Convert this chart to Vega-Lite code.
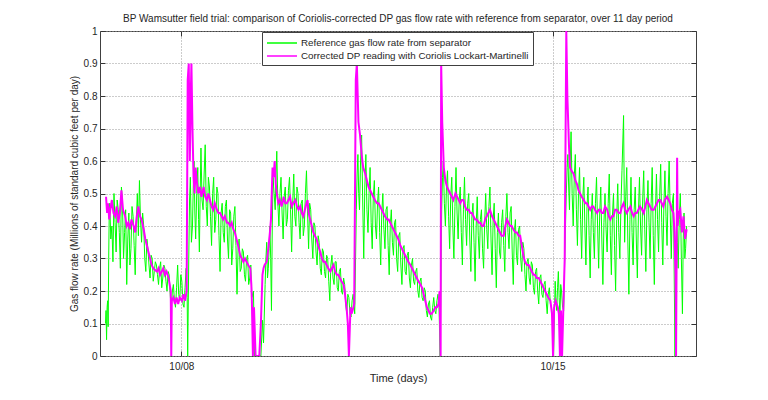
{
  "$schema": "https://vega.github.io/schema/vega-lite/v6.json",
  "description": "BP Wamsutter field trial: Coriolis-corrected DP gas flow rate vs separator reference, 11 days.",
  "autosize": "none",
  "width": 596,
  "height": 325,
  "padding": {"left": 100, "top": 31, "right": 72, "bottom": 44},
  "title": {
    "text": "BP Wamsutter field trial: comparison of Coriolis-corrected DP gas flow rate with reference from separator, over 11 day period",
    "fontSize": 10,
    "fontWeight": "normal",
    "color": "#262626",
    "frame": "group",
    "anchor": "middle",
    "offset": 2
  },
  "datasets": {
    "reference": [
      {"d":6.57,"v":0.10},{"d":6.58,"v":0.14},{"d":6.59,"v":0.05},{"d":6.60,"v":0.15},{"d":6.61,"v":0.17},{"d":6.62,"v":0.09},{"d":6.63,"v":0.30},{"d":6.64,"v":0.44},{"d":6.65,"v":0.47},{"d":6.67,"v":0.36},
      {"d":6.69,"v":0.40},{"d":6.71,"v":0.29},{"d":6.73,"v":0.50},{"d":6.75,"v":0.41},{"d":6.77,"v":0.32},{"d":6.79,"v":0.48},{"d":6.81,"v":0.45},{"d":6.83,"v":0.38},{"d":6.85,"v":0.27},{"d":6.87,"v":0.52},
      {"d":6.89,"v":0.47},{"d":6.91,"v":0.30},{"d":6.93,"v":0.38},{"d":6.95,"v":0.45},{"d":6.97,"v":0.22},{"d":6.99,"v":0.36},{"d":7.01,"v":0.44},{"d":7.03,"v":0.28},{"d":7.05,"v":0.33},{"d":7.07,"v":0.46},
      {"d":7.09,"v":0.43},{"d":7.11,"v":0.34},{"d":7.13,"v":0.25},{"d":7.15,"v":0.41},{"d":7.17,"v":0.50},{"d":7.19,"v":0.37},{"d":7.21,"v":0.54},{"d":7.23,"v":0.42},{"d":7.25,"v":0.35},{"d":7.27,"v":0.44},
      {"d":7.29,"v":0.40},{"d":7.31,"v":0.30},{"d":7.33,"v":0.26},{"d":7.35,"v":0.36},{"d":7.37,"v":0.33},{"d":7.39,"v":0.28},{"d":7.41,"v":0.24},{"d":7.43,"v":0.31},{"d":7.45,"v":0.30},{"d":7.47,"v":0.23},
      {"d":7.49,"v":0.26},{"d":7.51,"v":0.29},{"d":7.53,"v":0.28},{"d":7.55,"v":0.25},{"d":7.57,"v":0.22},{"d":7.59,"v":0.27},{"d":7.61,"v":0.29},{"d":7.63,"v":0.21},{"d":7.65,"v":0.24},{"d":7.67,"v":0.28},
      {"d":7.69,"v":0.27},{"d":7.71,"v":0.23},{"d":7.73,"v":0.20},{"d":7.75,"v":0.26},{"d":7.77,"v":0.25},{"d":7.79,"v":0.19},{"d":7.81,"v":0.14},{"d":7.83,"v":0.20},{"d":7.85,"v":0.22},{"d":7.87,"v":0.17},
      {"d":7.89,"v":0.15},{"d":7.91,"v":0.21},{"d":7.93,"v":0.28},{"d":7.95,"v":0.19},{"d":7.97,"v":0.17},{"d":7.99,"v":0.25},{"d":8.01,"v":0.23},{"d":8.03,"v":0.16},{"d":8.05,"v":0.15},{"d":8.07,"v":0.21},
      {"d":8.09,"v":0.27},{"d":8.11,"v":0.18},{"d":8.12,"v":0.0},{"d":8.14,"v":0.30},{"d":8.155,"v":0.48},{"d":8.17,"v":0.55},{"d":8.19,"v":0.35},{"d":8.21,"v":0.40},{"d":8.225,"v":0.52},{"d":8.24,"v":0.60},
      {"d":8.255,"v":0.44},{"d":8.27,"v":0.36},{"d":8.29,"v":0.50},{"d":8.31,"v":0.58},{"d":8.325,"v":0.42},{"d":8.34,"v":0.32},{"d":8.355,"v":0.50},{"d":8.37,"v":0.64},{"d":8.39,"v":0.48},{"d":8.41,"v":0.45},
      {"d":8.43,"v":0.56},{"d":8.45,"v":0.65},{"d":8.47,"v":0.46},{"d":8.49,"v":0.40},{"d":8.51,"v":0.55},{"d":8.53,"v":0.52},{"d":8.55,"v":0.43},{"d":8.57,"v":0.34},{"d":8.59,"v":0.50},{"d":8.61,"v":0.55},
      {"d":8.63,"v":0.38},{"d":8.65,"v":0.42},{"d":8.67,"v":0.52},{"d":8.69,"v":0.50},{"d":8.71,"v":0.37},{"d":8.73,"v":0.26},{"d":8.75,"v":0.44},{"d":8.77,"v":0.47},{"d":8.79,"v":0.38},{"d":8.81,"v":0.35},
      {"d":8.83,"v":0.46},{"d":8.85,"v":0.48},{"d":8.87,"v":0.36},{"d":8.89,"v":0.30},{"d":8.91,"v":0.45},{"d":8.93,"v":0.44},{"d":8.95,"v":0.28},{"d":8.97,"v":0.33},{"d":8.99,"v":0.43},{"d":9.01,"v":0.46},
      {"d":9.03,"v":0.34},{"d":9.05,"v":0.19},{"d":9.07,"v":0.33},{"d":9.09,"v":0.36},{"d":9.11,"v":0.26},{"d":9.13,"v":0.27},{"d":9.15,"v":0.33},{"d":9.17,"v":0.32},{"d":9.19,"v":0.25},{"d":9.21,"v":0.23},
      {"d":9.23,"v":0.30},{"d":9.25,"v":0.31},{"d":9.27,"v":0.22},{"d":9.29,"v":0.24},{"d":9.31,"v":0.28},{"d":9.33,"v":0.18},{"d":9.36,"v":0.20},{"d":9.38,"v":0.0},{"d":9.45,"v":0.0},{"d":9.50,"v":0.0},
      {"d":9.53,"v":0.11},{"d":9.55,"v":0.04},{"d":9.58,"v":0.22},{"d":9.595,"v":0.30},{"d":9.61,"v":0.35},{"d":9.625,"v":0.24},{"d":9.64,"v":0.27},{"d":9.655,"v":0.33},{"d":9.67,"v":0.40},{"d":9.685,"v":0.30},
      {"d":9.70,"v":0.14},{"d":9.715,"v":0.40},{"d":9.73,"v":0.55},{"d":9.75,"v":0.50},{"d":9.77,"v":0.45},{"d":9.785,"v":0.56},{"d":9.80,"v":0.63},{"d":9.82,"v":0.47},{"d":9.84,"v":0.40},{"d":9.86,"v":0.50},
      {"d":9.88,"v":0.55},{"d":9.90,"v":0.44},{"d":9.92,"v":0.36},{"d":9.94,"v":0.49},{"d":9.96,"v":0.52},{"d":9.98,"v":0.40},{"d":10.00,"v":0.42},{"d":10.02,"v":0.51},{"d":10.04,"v":0.55},{"d":10.06,"v":0.45},
      {"d":10.08,"v":0.32},{"d":10.10,"v":0.47},{"d":10.12,"v":0.56},{"d":10.14,"v":0.43},{"d":10.16,"v":0.40},{"d":10.18,"v":0.52},{"d":10.20,"v":0.50},{"d":10.22,"v":0.41},{"d":10.24,"v":0.36},{"d":10.26,"v":0.47},
      {"d":10.28,"v":0.48},{"d":10.30,"v":0.37},{"d":10.32,"v":0.40},{"d":10.34,"v":0.50},{"d":10.36,"v":0.57},{"d":10.38,"v":0.44},{"d":10.40,"v":0.33},{"d":10.42,"v":0.47},{"d":10.44,"v":0.45},{"d":10.46,"v":0.36},
      {"d":10.48,"v":0.30},{"d":10.50,"v":0.41},{"d":10.52,"v":0.40},{"d":10.54,"v":0.32},{"d":10.56,"v":0.28},{"d":10.58,"v":0.37},{"d":10.60,"v":0.35},{"d":10.62,"v":0.27},{"d":10.64,"v":0.25},{"d":10.66,"v":0.33},
      {"d":10.68,"v":0.32},{"d":10.70,"v":0.26},{"d":10.72,"v":0.24},{"d":10.74,"v":0.31},{"d":10.76,"v":0.30},{"d":10.78,"v":0.23},{"d":10.80,"v":0.17},{"d":10.82,"v":0.28},{"d":10.84,"v":0.31},{"d":10.86,"v":0.24},
      {"d":10.88,"v":0.22},{"d":10.90,"v":0.29},{"d":10.92,"v":0.29},{"d":10.94,"v":0.21},{"d":10.96,"v":0.20},{"d":10.98,"v":0.26},{"d":11.00,"v":0.27},{"d":11.02,"v":0.20},{"d":11.04,"v":0.19},{"d":11.06,"v":0.24},
      {"d":11.08,"v":0.22},{"d":11.10,"v":0.16},{"d":11.12,"v":0.13},{"d":11.14,"v":0.19},{"d":11.16,"v":0.18},{"d":11.18,"v":0.13},{"d":11.20,"v":0.12},{"d":11.22,"v":0.17},{"d":11.24,"v":0.19},{"d":11.27,"v":0.13},
      {"d":11.30,"v":0.45},{"d":11.315,"v":0.56},{"d":11.33,"v":0.62},{"d":11.345,"v":0.50},{"d":11.36,"v":0.45},{"d":11.38,"v":0.60},{"d":11.40,"v":0.68},{"d":11.42,"v":0.48},{"d":11.44,"v":0.30},{"d":11.46,"v":0.52},
      {"d":11.48,"v":0.62},{"d":11.50,"v":0.45},{"d":11.52,"v":0.38},{"d":11.54,"v":0.50},{"d":11.56,"v":0.58},{"d":11.58,"v":0.41},{"d":11.60,"v":0.33},{"d":11.62,"v":0.49},{"d":11.64,"v":0.54},{"d":11.66,"v":0.40},
      {"d":11.68,"v":0.36},{"d":11.70,"v":0.47},{"d":11.72,"v":0.52},{"d":11.74,"v":0.38},{"d":11.76,"v":0.28},{"d":11.78,"v":0.44},{"d":11.80,"v":0.50},{"d":11.82,"v":0.39},{"d":11.84,"v":0.33},{"d":11.86,"v":0.45},
      {"d":11.88,"v":0.46},{"d":11.90,"v":0.34},{"d":11.92,"v":0.25},{"d":11.94,"v":0.40},{"d":11.96,"v":0.45},{"d":11.98,"v":0.35},{"d":12.00,"v":0.31},{"d":12.02,"v":0.41},{"d":12.04,"v":0.42},{"d":12.06,"v":0.30},
      {"d":12.08,"v":0.26},{"d":12.10,"v":0.37},{"d":12.12,"v":0.38},{"d":12.14,"v":0.28},{"d":12.16,"v":0.22},{"d":12.18,"v":0.33},{"d":12.20,"v":0.34},{"d":12.22,"v":0.26},{"d":12.24,"v":0.25},{"d":12.26,"v":0.31},
      {"d":12.28,"v":0.32},{"d":12.30,"v":0.24},{"d":12.32,"v":0.21},{"d":12.34,"v":0.28},{"d":12.36,"v":0.30},{"d":12.38,"v":0.23},{"d":12.40,"v":0.22},{"d":12.42,"v":0.26},{"d":12.44,"v":0.27},{"d":12.46,"v":0.20},
      {"d":12.48,"v":0.18},{"d":12.50,"v":0.23},{"d":12.52,"v":0.24},{"d":12.54,"v":0.18},{"d":12.56,"v":0.17},{"d":12.58,"v":0.21},{"d":12.60,"v":0.20},{"d":12.62,"v":0.14},{"d":12.64,"v":0.12},{"d":12.66,"v":0.16},
      {"d":12.68,"v":0.17},{"d":12.70,"v":0.12},{"d":12.72,"v":0.11},{"d":12.74,"v":0.15},{"d":12.76,"v":0.18},{"d":12.78,"v":0.14},{"d":12.80,"v":0.13},{"d":12.82,"v":0.17},{"d":12.84,"v":0.19},{"d":12.86,"v":0.15},
      {"d":12.88,"v":0.0},{"d":12.91,"v":0.45},{"d":12.925,"v":0.55},{"d":12.94,"v":0.60},{"d":12.96,"v":0.47},{"d":12.98,"v":0.40},{"d":13.00,"v":0.52},{"d":13.02,"v":0.57},{"d":13.04,"v":0.43},{"d":13.06,"v":0.33},
      {"d":13.08,"v":0.49},{"d":13.10,"v":0.55},{"d":13.12,"v":0.40},{"d":13.14,"v":0.30},{"d":13.16,"v":0.46},{"d":13.18,"v":0.58},{"d":13.20,"v":0.44},{"d":13.22,"v":0.36},{"d":13.24,"v":0.48},{"d":13.26,"v":0.52},
      {"d":13.28,"v":0.38},{"d":13.30,"v":0.28},{"d":13.32,"v":0.45},{"d":13.34,"v":0.55},{"d":13.36,"v":0.42},{"d":13.38,"v":0.34},{"d":13.40,"v":0.47},{"d":13.42,"v":0.50},{"d":13.44,"v":0.36},{"d":13.46,"v":0.26},
      {"d":13.48,"v":0.43},{"d":13.50,"v":0.47},{"d":13.52,"v":0.35},{"d":13.54,"v":0.23},{"d":13.56,"v":0.40},{"d":13.58,"v":0.49},{"d":13.60,"v":0.37},{"d":13.62,"v":0.30},{"d":13.64,"v":0.42},{"d":13.66,"v":0.45},
      {"d":13.68,"v":0.33},{"d":13.70,"v":0.27},{"d":13.72,"v":0.41},{"d":13.74,"v":0.50},{"d":13.76,"v":0.39},{"d":13.78,"v":0.33},{"d":13.80,"v":0.46},{"d":13.82,"v":0.52},{"d":13.84,"v":0.36},{"d":13.86,"v":0.25},
      {"d":13.88,"v":0.42},{"d":13.90,"v":0.47},{"d":13.92,"v":0.33},{"d":13.94,"v":0.21},{"d":13.96,"v":0.38},{"d":13.98,"v":0.44},{"d":14.00,"v":0.32},{"d":14.02,"v":0.30},{"d":14.04,"v":0.41},{"d":14.06,"v":0.45},
      {"d":14.08,"v":0.34},{"d":14.10,"v":0.26},{"d":14.12,"v":0.43},{"d":14.14,"v":0.50},{"d":14.16,"v":0.38},{"d":14.18,"v":0.33},{"d":14.20,"v":0.44},{"d":14.22,"v":0.46},{"d":14.24,"v":0.32},{"d":14.26,"v":0.22},
      {"d":14.28,"v":0.38},{"d":14.30,"v":0.42},{"d":14.32,"v":0.31},{"d":14.34,"v":0.28},{"d":14.36,"v":0.39},{"d":14.38,"v":0.40},{"d":14.40,"v":0.30},{"d":14.42,"v":0.26},{"d":14.44,"v":0.35},{"d":14.46,"v":0.33},
      {"d":14.48,"v":0.25},{"d":14.50,"v":0.20},{"d":14.52,"v":0.29},{"d":14.54,"v":0.30},{"d":14.56,"v":0.24},{"d":14.58,"v":0.22},{"d":14.60,"v":0.29},{"d":14.62,"v":0.28},{"d":14.64,"v":0.21},{"d":14.66,"v":0.19},
      {"d":14.68,"v":0.26},{"d":14.70,"v":0.27},{"d":14.72,"v":0.20},{"d":14.74,"v":0.16},{"d":14.76,"v":0.24},{"d":14.78,"v":0.25},{"d":14.80,"v":0.19},{"d":14.82,"v":0.18},{"d":14.84,"v":0.22},{"d":14.86,"v":0.23},
      {"d":14.88,"v":0.17},{"d":14.90,"v":0.13},{"d":14.92,"v":0.19},{"d":14.94,"v":0.21},{"d":14.96,"v":0.16},{"d":14.98,"v":0.15},{"d":15.00,"v":0.12},{"d":15.02,"v":0.0},{"d":15.05,"v":0.23},{"d":15.065,"v":0.17},
      {"d":15.08,"v":0.14},{"d":15.095,"v":0.21},{"d":15.11,"v":0.26},{"d":15.125,"v":0.18},{"d":15.14,"v":0.12},{"d":15.155,"v":0.22},{"d":15.17,"v":0.20},{"d":15.19,"v":0.15},{"d":15.21,"v":0.14},{"d":15.23,"v":0.30},
      {"d":15.26,"v":0.50},{"d":15.275,"v":0.58},{"d":15.29,"v":0.62},{"d":15.305,"v":0.52},{"d":15.32,"v":0.45},{"d":15.335,"v":0.60},{"d":15.35,"v":0.69},{"d":15.37,"v":0.50},{"d":15.39,"v":0.40},{"d":15.41,"v":0.55},
      {"d":15.43,"v":0.62},{"d":15.45,"v":0.45},{"d":15.47,"v":0.34},{"d":15.49,"v":0.50},{"d":15.51,"v":0.58},{"d":15.53,"v":0.42},{"d":15.55,"v":0.30},{"d":15.57,"v":0.48},{"d":15.59,"v":0.55},{"d":15.61,"v":0.40},
      {"d":15.63,"v":0.28},{"d":15.65,"v":0.46},{"d":15.67,"v":0.52},{"d":15.69,"v":0.37},{"d":15.71,"v":0.24},{"d":15.73,"v":0.42},{"d":15.75,"v":0.50},{"d":15.77,"v":0.38},{"d":15.79,"v":0.30},{"d":15.81,"v":0.47},
      {"d":15.83,"v":0.55},{"d":15.85,"v":0.40},{"d":15.87,"v":0.27},{"d":15.89,"v":0.44},{"d":15.91,"v":0.52},{"d":15.93,"v":0.36},{"d":15.95,"v":0.22},{"d":15.97,"v":0.41},{"d":15.99,"v":0.50},{"d":16.01,"v":0.39},
      {"d":16.03,"v":0.32},{"d":16.05,"v":0.47},{"d":16.07,"v":0.56},{"d":16.09,"v":0.37},{"d":16.11,"v":0.25},{"d":16.13,"v":0.43},{"d":16.15,"v":0.50},{"d":16.17,"v":0.34},{"d":16.19,"v":0.20},{"d":16.21,"v":0.42},
      {"d":16.23,"v":0.53},{"d":16.25,"v":0.38},{"d":16.27,"v":0.30},{"d":16.29,"v":0.46},{"d":16.31,"v":0.57},{"d":16.34,"v":0.74},{"d":16.36,"v":0.35},{"d":16.38,"v":0.49},{"d":16.40,"v":0.58},{"d":16.42,"v":0.36},
      {"d":16.44,"v":0.19},{"d":16.46,"v":0.42},{"d":16.48,"v":0.55},{"d":16.50,"v":0.38},{"d":16.52,"v":0.28},{"d":16.54,"v":0.45},{"d":16.56,"v":0.52},{"d":16.58,"v":0.36},{"d":16.60,"v":0.24},{"d":16.62,"v":0.44},
      {"d":16.64,"v":0.55},{"d":16.66,"v":0.40},{"d":16.68,"v":0.31},{"d":16.70,"v":0.48},{"d":16.72,"v":0.57},{"d":16.74,"v":0.39},{"d":16.76,"v":0.26},{"d":16.78,"v":0.45},{"d":16.80,"v":0.54},{"d":16.82,"v":0.41},
      {"d":16.84,"v":0.30},{"d":16.86,"v":0.47},{"d":16.88,"v":0.58},{"d":16.90,"v":0.37},{"d":16.92,"v":0.22},{"d":16.94,"v":0.44},{"d":16.96,"v":0.56},{"d":16.98,"v":0.42},{"d":17.00,"v":0.32},{"d":17.02,"v":0.49},
      {"d":17.04,"v":0.59},{"d":17.06,"v":0.41},{"d":17.08,"v":0.28},{"d":17.10,"v":0.46},{"d":17.12,"v":0.57},{"d":17.14,"v":0.43},{"d":17.16,"v":0.34},{"d":17.18,"v":0.50},{"d":17.20,"v":0.60},{"d":17.22,"v":0.44},
      {"d":17.24,"v":0.30},{"d":17.26,"v":0.47},{"d":17.28,"v":0.50},{"d":17.31,"v":0.0},{"d":17.34,"v":0.45},{"d":17.355,"v":0.35},{"d":17.37,"v":0.27},{"d":17.39,"v":0.42},{"d":17.41,"v":0.50},{"d":17.43,"v":0.30},
      {"d":17.45,"v":0.13},{"d":17.465,"v":0.36},{"d":17.48,"v":0.44},{"d":17.495,"v":0.30},{"d":17.51,"v":0.33},{"d":17.53,"v":0.40}
    ],
    "corrected": [
      {"d":6.58,"v":0.49},{"d":6.60,"v":0.44},{"d":6.62,"v":0.47},{"d":6.64,"v":0.42},{"d":6.66,"v":0.45},{"d":6.69,"v":0.48},{"d":6.72,"v":0.44},{"d":6.75,"v":0.43},{"d":6.78,"v":0.46},{"d":6.81,"v":0.41},
      {"d":6.84,"v":0.44},{"d":6.87,"v":0.51},{"d":6.90,"v":0.45},{"d":6.94,"v":0.43},{"d":6.97,"v":0.40},{"d":7.00,"v":0.41},{"d":7.03,"v":0.39},{"d":7.06,"v":0.42},{"d":7.10,"v":0.40},{"d":7.13,"v":0.38},
      {"d":7.16,"v":0.43},{"d":7.19,"v":0.46},{"d":7.22,"v":0.43},{"d":7.25,"v":0.42},{"d":7.29,"v":0.39},{"d":7.32,"v":0.36},{"d":7.35,"v":0.34},{"d":7.38,"v":0.32},{"d":7.41,"v":0.30},{"d":7.44,"v":0.28},
      {"d":7.47,"v":0.27},{"d":7.50,"v":0.265},{"d":7.54,"v":0.26},{"d":7.57,"v":0.27},{"d":7.60,"v":0.25},{"d":7.63,"v":0.26},{"d":7.66,"v":0.27},{"d":7.69,"v":0.25},{"d":7.72,"v":0.26},{"d":7.76,"v":0.24},
      {"d":7.78,"v":0.22},{"d":7.80,"v":0.20},{"d":7.81,"v":0.0},{"d":7.82,"v":0.17},{"d":7.85,"v":0.18},{"d":7.88,"v":0.16},{"d":7.91,"v":0.18},{"d":7.94,"v":0.16},{"d":7.97,"v":0.18},{"d":8.01,"v":0.17},
      {"d":8.04,"v":0.19},{"d":8.07,"v":0.17},{"d":8.10,"v":0.20},{"d":8.12,"v":0.85},{"d":8.14,"v":0.90},{"d":8.16,"v":0.60},{"d":8.18,"v":0.82},{"d":8.19,"v":0.90},{"d":8.21,"v":0.70},{"d":8.23,"v":0.55},
      {"d":8.25,"v":0.50},{"d":8.27,"v":0.58},{"d":8.29,"v":0.54},{"d":8.32,"v":0.50},{"d":8.35,"v":0.52},{"d":8.38,"v":0.49},{"d":8.42,"v":0.52},{"d":8.45,"v":0.49},{"d":8.48,"v":0.48},{"d":8.51,"v":0.50},
      {"d":8.54,"v":0.48},{"d":8.57,"v":0.46},{"d":8.60,"v":0.45},{"d":8.63,"v":0.47},{"d":8.67,"v":0.45},{"d":8.70,"v":0.44},{"d":8.73,"v":0.44},{"d":8.76,"v":0.43},{"d":8.79,"v":0.42},{"d":8.82,"v":0.43},
      {"d":8.86,"v":0.41},{"d":8.89,"v":0.41},{"d":8.92,"v":0.40},{"d":8.95,"v":0.41},{"d":8.98,"v":0.39},{"d":9.01,"v":0.38},{"d":9.04,"v":0.36},{"d":9.07,"v":0.34},{"d":9.11,"v":0.31},{"d":9.14,"v":0.30},
      {"d":9.17,"v":0.29},{"d":9.20,"v":0.30},{"d":9.23,"v":0.29},{"d":9.26,"v":0.28},{"d":9.30,"v":0.27},{"d":9.32,"v":0.22},{"d":9.33,"v":0.17},{"d":9.35,"v":0.0},{"d":9.37,"v":0.15},{"d":9.40,"v":0.0},
      {"d":9.43,"v":0.0},{"d":9.47,"v":0.0},{"d":9.50,"v":0.10},{"d":9.53,"v":0.25},{"d":9.55,"v":0.27},{"d":9.57,"v":0.28},{"d":9.61,"v":0.29},{"d":9.64,"v":0.33},{"d":9.67,"v":0.38},{"d":9.69,"v":0.42},
      {"d":9.72,"v":0.58},{"d":9.74,"v":0.55},{"d":9.76,"v":0.60},{"d":9.78,"v":0.53},{"d":9.80,"v":0.50},{"d":9.83,"v":0.47},{"d":9.86,"v":0.48},{"d":9.89,"v":0.46},{"d":9.93,"v":0.49},{"d":9.96,"v":0.47},
      {"d":9.99,"v":0.47},{"d":10.02,"v":0.48},{"d":10.05,"v":0.49},{"d":10.08,"v":0.46},{"d":10.11,"v":0.47},{"d":10.15,"v":0.48},{"d":10.18,"v":0.46},{"d":10.21,"v":0.45},{"d":10.24,"v":0.46},{"d":10.27,"v":0.44},
      {"d":10.30,"v":0.43},{"d":10.33,"v":0.45},{"d":10.36,"v":0.47},{"d":10.38,"v":0.48},{"d":10.40,"v":0.44},{"d":10.43,"v":0.42},{"d":10.46,"v":0.40},{"d":10.49,"v":0.38},{"d":10.52,"v":0.37},{"d":10.55,"v":0.36},
      {"d":10.58,"v":0.34},{"d":10.62,"v":0.32},{"d":10.65,"v":0.30},{"d":10.68,"v":0.29},{"d":10.71,"v":0.29},{"d":10.74,"v":0.28},{"d":10.77,"v":0.27},{"d":10.81,"v":0.26},{"d":10.84,"v":0.27},{"d":10.87,"v":0.28},
      {"d":10.90,"v":0.26},{"d":10.93,"v":0.25},{"d":10.96,"v":0.25},{"d":10.99,"v":0.24},{"d":11.02,"v":0.23},{"d":11.06,"v":0.22},{"d":11.08,"v":0.20},{"d":11.10,"v":0.17},{"d":11.12,"v":0.14},{"d":11.14,"v":0.10},
      {"d":11.16,"v":0.0},{"d":11.19,"v":0.15},{"d":11.21,"v":0.13},{"d":11.23,"v":0.14},{"d":11.26,"v":0.16},{"d":11.29,"v":0.85},{"d":11.31,"v":0.90},{"d":11.33,"v":0.78},{"d":11.34,"v":0.72},{"d":11.37,"v":0.68},
      {"d":11.40,"v":0.62},{"d":11.43,"v":0.58},{"d":11.47,"v":0.56},{"d":11.50,"v":0.54},{"d":11.53,"v":0.52},{"d":11.56,"v":0.51},{"d":11.59,"v":0.50},{"d":11.62,"v":0.49},{"d":11.65,"v":0.48},{"d":11.69,"v":0.47},
      {"d":11.72,"v":0.47},{"d":11.75,"v":0.46},{"d":11.78,"v":0.45},{"d":11.81,"v":0.44},{"d":11.84,"v":0.43},{"d":11.88,"v":0.42},{"d":11.91,"v":0.42},{"d":11.94,"v":0.41},{"d":11.97,"v":0.40},{"d":12.00,"v":0.39},
      {"d":12.03,"v":0.38},{"d":12.06,"v":0.37},{"d":12.09,"v":0.36},{"d":12.13,"v":0.34},{"d":12.16,"v":0.33},{"d":12.19,"v":0.32},{"d":12.22,"v":0.31},{"d":12.25,"v":0.30},{"d":12.28,"v":0.29},{"d":12.32,"v":0.28},
      {"d":12.35,"v":0.27},{"d":12.38,"v":0.26},{"d":12.41,"v":0.25},{"d":12.44,"v":0.24},{"d":12.47,"v":0.23},{"d":12.51,"v":0.22},{"d":12.54,"v":0.21},{"d":12.57,"v":0.19},{"d":12.60,"v":0.17},{"d":12.63,"v":0.15},
      {"d":12.66,"v":0.14},{"d":12.69,"v":0.13},{"d":12.72,"v":0.13},{"d":12.76,"v":0.14},{"d":12.79,"v":0.15},{"d":12.82,"v":0.15},{"d":12.85,"v":0.16},{"d":12.87,"v":0.20},{"d":12.89,"v":0.0},{"d":12.90,"v":0.90},
      {"d":12.92,"v":0.72},{"d":12.95,"v":0.58},{"d":12.98,"v":0.54},{"d":13.01,"v":0.52},{"d":13.04,"v":0.51},{"d":13.07,"v":0.50},{"d":13.10,"v":0.49},{"d":13.13,"v":0.48},{"d":13.17,"v":0.50},{"d":13.20,"v":0.49},
      {"d":13.23,"v":0.48},{"d":13.26,"v":0.47},{"d":13.29,"v":0.48},{"d":13.32,"v":0.48},{"d":13.35,"v":0.46},{"d":13.38,"v":0.45},{"d":13.42,"v":0.45},{"d":13.45,"v":0.44},{"d":13.48,"v":0.44},{"d":13.51,"v":0.43},
      {"d":13.54,"v":0.42},{"d":13.57,"v":0.42},{"d":13.61,"v":0.41},{"d":13.64,"v":0.41},{"d":13.67,"v":0.40},{"d":13.70,"v":0.40},{"d":13.73,"v":0.42},{"d":13.76,"v":0.43},{"d":13.79,"v":0.44},{"d":13.82,"v":0.45},
      {"d":13.86,"v":0.43},{"d":13.89,"v":0.42},{"d":13.92,"v":0.41},{"d":13.95,"v":0.40},{"d":13.98,"v":0.39},{"d":14.01,"v":0.38},{"d":14.04,"v":0.37},{"d":14.08,"v":0.37},{"d":14.11,"v":0.40},{"d":14.14,"v":0.42},
      {"d":14.17,"v":0.41},{"d":14.20,"v":0.40},{"d":14.23,"v":0.40},{"d":14.26,"v":0.39},{"d":14.30,"v":0.38},{"d":14.33,"v":0.38},{"d":14.36,"v":0.37},{"d":14.39,"v":0.37},{"d":14.42,"v":0.34},{"d":14.45,"v":0.31},
      {"d":14.48,"v":0.29},{"d":14.52,"v":0.28},{"d":14.55,"v":0.28},{"d":14.58,"v":0.27},{"d":14.61,"v":0.26},{"d":14.64,"v":0.25},{"d":14.67,"v":0.25},{"d":14.70,"v":0.24},{"d":14.74,"v":0.24},{"d":14.77,"v":0.23},
      {"d":14.80,"v":0.22},{"d":14.83,"v":0.21},{"d":14.86,"v":0.20},{"d":14.89,"v":0.19},{"d":14.92,"v":0.18},{"d":14.96,"v":0.17},{"d":14.99,"v":0.13},{"d":15.01,"v":0.0},{"d":15.03,"v":0.15},{"d":15.06,"v":0.17},
      {"d":15.08,"v":0.16},{"d":15.10,"v":0.15},{"d":15.12,"v":0.13},{"d":15.14,"v":0.0},{"d":15.16,"v":0.14},{"d":15.18,"v":0.0},{"d":15.20,"v":0.12},{"d":15.23,"v":0.30},{"d":15.26,"v":1.0},{"d":15.27,"v":0.90},
      {"d":15.28,"v":0.80},{"d":15.30,"v":0.70},{"d":15.31,"v":0.65},{"d":15.33,"v":0.58},{"d":15.36,"v":0.57},{"d":15.40,"v":0.56},{"d":15.43,"v":0.54},{"d":15.46,"v":0.53},{"d":15.49,"v":0.51},{"d":15.52,"v":0.50},
      {"d":15.55,"v":0.49},{"d":15.59,"v":0.48},{"d":15.62,"v":0.47},{"d":15.65,"v":0.47},{"d":15.68,"v":0.46},{"d":15.71,"v":0.45},{"d":15.74,"v":0.46},{"d":15.77,"v":0.46},{"d":15.80,"v":0.45},{"d":15.84,"v":0.44},
      {"d":15.87,"v":0.45},{"d":15.90,"v":0.45},{"d":15.93,"v":0.44},{"d":15.96,"v":0.44},{"d":15.99,"v":0.46},{"d":16.03,"v":0.45},{"d":16.06,"v":0.43},{"d":16.09,"v":0.42},{"d":16.12,"v":0.43},{"d":16.15,"v":0.43},
      {"d":16.18,"v":0.45},{"d":16.21,"v":0.45},{"d":16.25,"v":0.44},{"d":16.28,"v":0.44},{"d":16.31,"v":0.46},{"d":16.34,"v":0.47},{"d":16.37,"v":0.45},{"d":16.40,"v":0.44},{"d":16.43,"v":0.45},{"d":16.47,"v":0.46},
      {"d":16.50,"v":0.44},{"d":16.53,"v":0.43},{"d":16.56,"v":0.44},{"d":16.59,"v":0.44},{"d":16.62,"v":0.45},{"d":16.65,"v":0.46},{"d":16.69,"v":0.45},{"d":16.72,"v":0.44},{"d":16.75,"v":0.46},{"d":16.78,"v":0.48},
      {"d":16.81,"v":0.47},{"d":16.84,"v":0.46},{"d":16.87,"v":0.45},{"d":16.91,"v":0.45},{"d":16.94,"v":0.46},{"d":16.97,"v":0.47},{"d":17.00,"v":0.48},{"d":17.03,"v":0.48},{"d":17.06,"v":0.47},{"d":17.09,"v":0.46},
      {"d":17.12,"v":0.48},{"d":17.16,"v":0.49},{"d":17.19,"v":0.48},{"d":17.22,"v":0.47},{"d":17.25,"v":0.45},{"d":17.28,"v":0.44},{"d":17.30,"v":0.38},{"d":17.32,"v":0.25},{"d":17.33,"v":0.0},{"d":17.35,"v":0.61},
      {"d":17.36,"v":0.40},{"d":17.38,"v":0.44},{"d":17.41,"v":0.45},{"d":17.44,"v":0.38},{"d":17.47,"v":0.43},{"d":17.50,"v":0.36},{"d":17.53,"v":0.39}
    ]
  },
  "layer": [
    {
      "data": {"name": "reference"},
      "mark": {"type": "line", "strokeWidth": 1, "clip": true},
      "encoding": {
        "x": {
          "field": "d", "type": "quantitative",
          "scale": {"domain": [6.466, 17.706], "nice": false, "zero": false},
          "axis": {"orient": "top", "values": [8, 15], "labels": false, "title": null, "grid": false, "ticks": true}
        },
        "y": {
          "field": "v", "type": "quantitative",
          "scale": {"domain": [0, 1], "nice": false},
          "axis": {"orient": "right", "values": [0, 0.1, 0.2, 0.3, 0.4, 0.5, 0.6, 0.7, 0.8, 0.9, 1], "labels": false, "title": null, "grid": false, "ticks": true}
        },
        "color": {
          "datum": "Reference gas flow rate from separator",
          "scale": {
            "domain": ["Reference gas flow rate from separator", "Corrected DP reading with Coriolis Lockart-Martinelli"],
            "range": ["#00ff00", "#ff00ff"]
          },
          "legend": {
            "orient": "none", "legendX": 162, "legendY": 1, "title": null,
            "symbolType": "M-1,0H4", "symbolSize": 144, "symbolStrokeWidth": 1.5,
            "labelOffset": 21, "labelFontSize": 9.8, "labelColor": "#262626", "labelLimit": 400,
            "strokeColor": "#404040", "fillColor": "white", "padding": 4, "rowPadding": 1
          }
        }
      }
    },
    {
      "data": {"name": "corrected"},
      "mark": {"type": "line", "strokeWidth": 2, "clip": true},
      "encoding": {
        "x": {
          "field": "d", "type": "quantitative",
          "axis": {
            "values": [8, 15], "title": "Time (days)", "grid": true, "ticks": true, "labelPadding": 10, "titlePadding": 1,
            "labelExpr": "'10/' + (datum.value < 10 ? '0' : '') + datum.value"
          }
        },
        "y": {
          "field": "v", "type": "quantitative",
          "axis": {
            "values": [0, 0.1, 0.2, 0.3, 0.4, 0.5, 0.6, 0.7, 0.8, 0.9, 1], "format": "~g", "grid": true, "ticks": true, "labelPadding": 8,
            "title": "Gas flow rate (Millions of standard cubic feet per day)", "titleFontSize": 10
          }
        },
        "color": {"datum": "Corrected DP reading with Coriolis Lockart-Martinelli"}
      }
    }
  ],
  "resolve": {"axis": {"x": "independent", "y": "independent"}},
  "config": {
    "font": "Liberation Sans",
    "view": {"stroke": "#404040", "strokeWidth": 1},
    "axis": {
      "domain": false,
      "labelFontSize": 10, "labelColor": "#262626",
      "titleFontSize": 11, "titleFontWeight": "normal", "titleColor": "#262626",
      "tickColor": "#333333", "tickSize": -5, "tickWidth": 1,
      "gridColor": "#999999", "gridDash": [1, 2], "gridOpacity": 1, "gridWidth": 1
    }
  }
}
